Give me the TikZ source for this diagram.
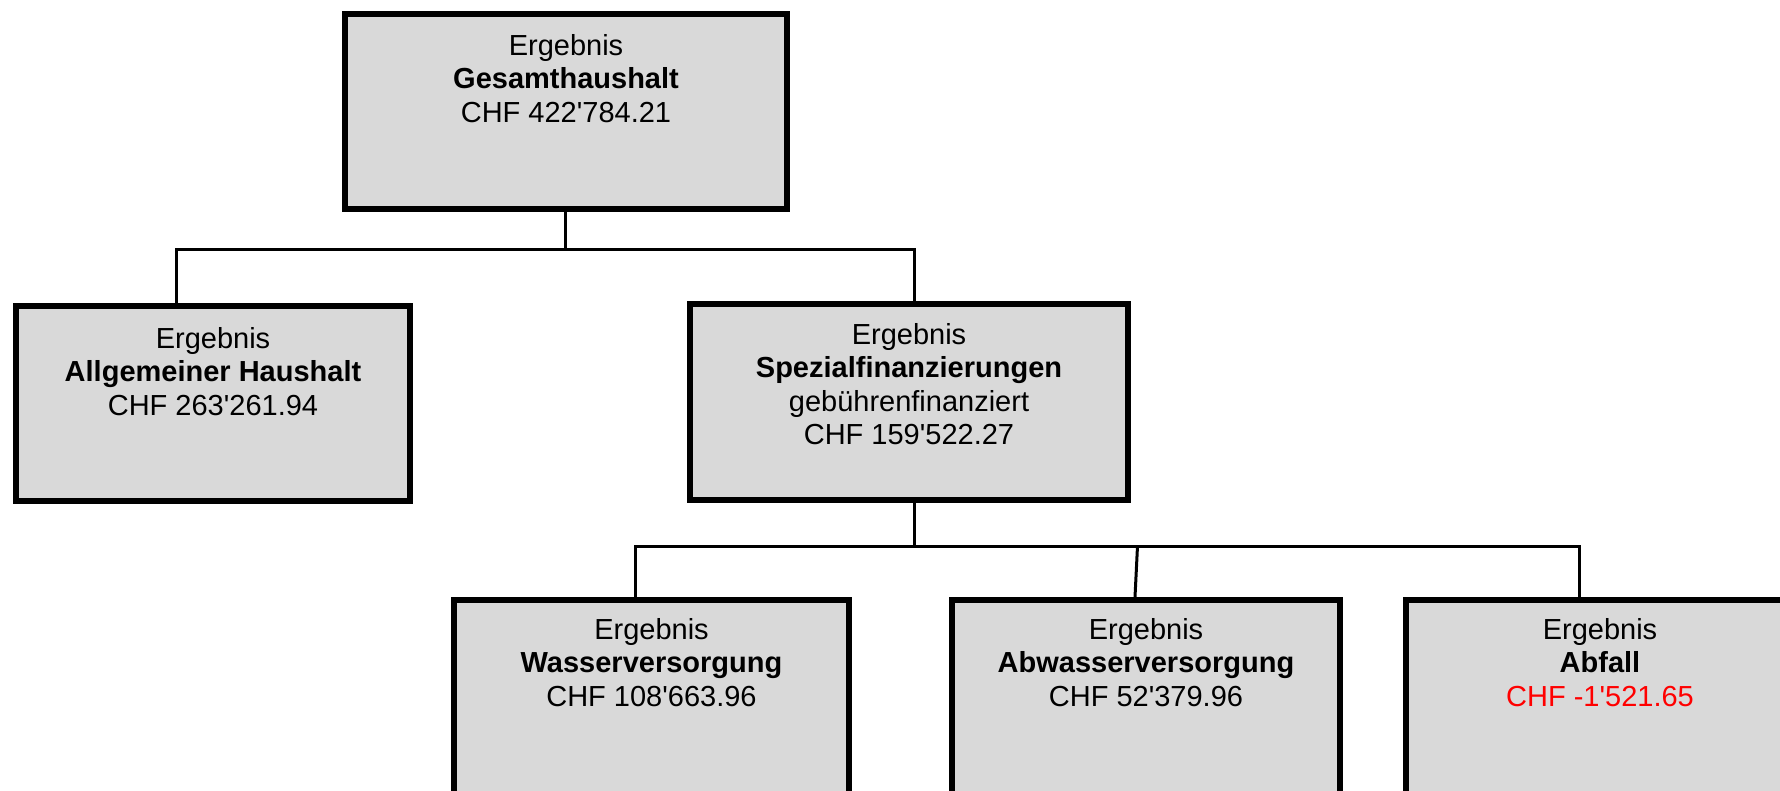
\documentclass[tikz,border=0pt]{standalone}
\usepackage{fontspec}
\setmainfont{Liberation Sans}
\usetikzlibrary{positioning}
\definecolor{boxfill}{HTML}{D9D9D9}
\definecolor{negred}{HTML}{FF0000}
\newcommand{\apo}{\textquotesingle}
\tikzset{
  orgbox/.style={draw=black, line width=6pt, fill=boxfill, rectangle, inner sep=0pt, minimum height=195pt},
  orgtxt/.style={align=center, inner sep=0pt, font=\fontsize{29}{33.5}\selectfont},
  conn/.style={draw=black, line width=3pt}
}
\begin{document}
\begin{tikzpicture}[x=1pt, y=-1pt]
\useasboundingbox (0,0) rectangle (1780,790);
\fill[white] (0,0) rectangle (1780,790);
\clip (0,0) rectangle (1780,790);

% boxes
\node[orgbox, minimum width=442pt] (top) at (566,111.5) {};
\node[orgbox, minimum width=394pt] (left) at (213,403.5) {};
\node[orgbox, minimum width=438pt, minimum height=196pt] (spez) at (909,402) {};
\node[orgbox, minimum width=395pt, minimum height=196pt] (wasser) at (651.5,698) {};
\node[orgbox, minimum width=388pt, minimum height=196pt] (abwasser) at (1146,698) {};
\node[orgbox, minimum width=388pt, minimum height=196pt] (abfall) at (1600,698) {};

% connectors
\coordinate (bus1) at (0,249);
\coordinate (bus2) at (0,546);
\draw[conn] (565,0 |- top.south) -- (565,0 |- bus1);
\draw[conn] (176,0 |- left.north) |- (914,0 |- bus1) -- (914,0 |- spez.north);
\draw[conn] (914,0 |- spez.south) -- (914,0 |- bus2);
\draw[conn] (635,0 |- wasser.north) |- (1579,0 |- bus2) -- (1579,0 |- abfall.north);
\draw[conn] (1137.5,0 |- bus2) -- (1135,0 |- abwasser.north);

% redraw boxes on top of connector ends
\node[orgbox, minimum width=442pt] at (top) {};
\node[orgbox, minimum width=394pt] at (left) {};
\node[orgbox, minimum width=438pt, minimum height=196pt] at (spez) {};
\node[orgbox, minimum width=395pt, minimum height=196pt] at (wasser) {};
\node[orgbox, minimum width=388pt, minimum height=196pt] at (abwasser) {};
\node[orgbox, minimum width=388pt, minimum height=196pt] at (abfall) {};

% texts
\node[orgtxt, below=23pt of top.north] (ttop) {Ergebnis\\\textbf{Gesamthaushalt}\\CHF 422\apo784.21};
\node[orgtxt, below=24pt of left.north] (tleft) {Ergebnis\\\textbf{Allgemeiner Haushalt}\\CHF 263\apo261.94};
\node[orgtxt, below=22pt of spez.north] (tspez) {Ergebnis\\\textbf{Spezialfinanzierungen}\\gebührenfinanziert\\CHF 159\apo522.27};
\node[orgtxt, below=21pt of wasser.north] (twasser) {Ergebnis\\\textbf{Wasserversorgung}\\CHF 108\apo663.96};
\node[orgtxt, below=21pt of abwasser.north] (tabwasser) {Ergebnis\\\textbf{Abwasserversorgung}\\CHF 52\apo379.96};
\node[orgtxt, below=21pt of abfall.north] (tabfall) {Ergebnis\\\textbf{Abfall}\\\textcolor{negred}{CHF -1\apo521.65}};
\end{tikzpicture}
\end{document}
